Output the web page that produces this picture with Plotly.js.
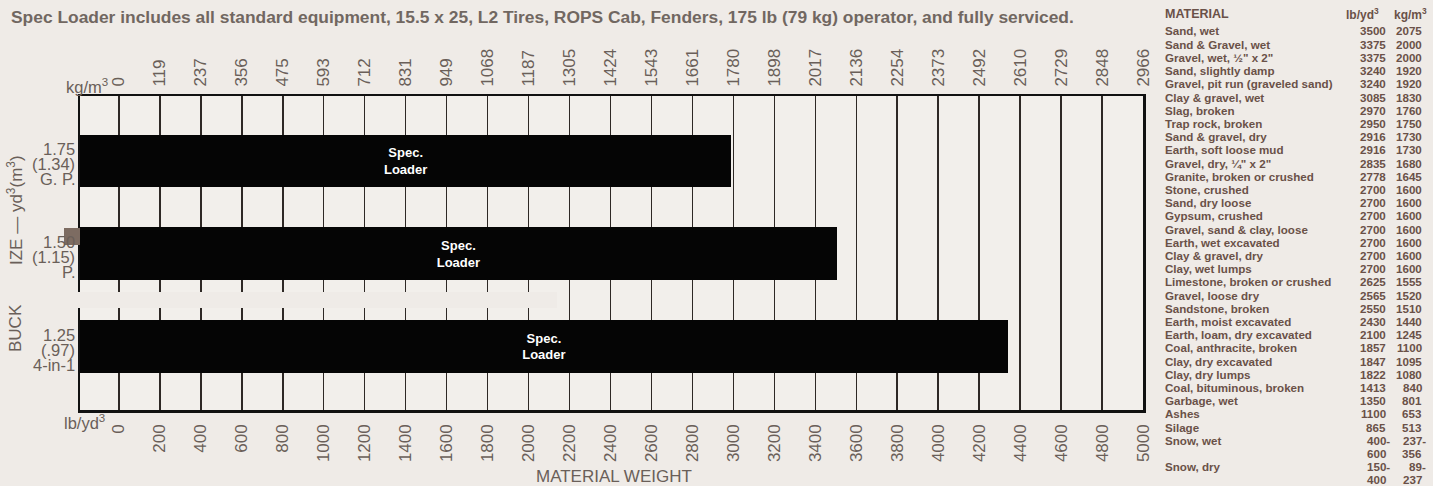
<!DOCTYPE html>
<html>
<head>
<meta charset="utf-8">
<script src="https://cdn.plot.ly/plotly-3.0.1.min.js"></script>
<style>
html,body{margin:0;padding:0;background:#efebe7;}
#chart{width:1433px;height:486px;}
</style>
</head>
<body>
<div id="chart"></div>
<script>
// ---------- data ----------
const bucketSize   = ['1.75', '1.50', '1.25'];
const bucketMetric = ['(1.34)', '(1.15)', '(.97)'];
const bucketType   = ['G. P.', 'P.', '4-in-1'];
const loaderWeight = [2990, 3505, 4340];          // lb/yd3 reached by each bar
const barLabels    = ['Spec.<br>Loader', 'Spec.<br>Loader', 'Spec.<br>Loader'];

const lbTicks = [0,200,400,600,800,1000,1200,1400,1600,1800,2000,2200,2400,2600,2800,3000,3200,3400,3600,3800,4000,4200,4400,4600,4800,5000];
const lbTickText = ['0','200','400','600','800','1000','1200','1400','1600','1800','2000','2200','2400','2600','2800','3000','3200','3400','3600','3800','4000','4200','4400','4600','4800','5000'];
const kgTickText = ['0','119','237','356','475','593','712','831','949','1068','1187','1305','1424','1543','1661','1780','1898','2017','2136','2254','2373','2492','2610','2729','2848','2966'];

const materials = ['Sand, wet','Sand & Gravel, wet','Gravel, wet, ½" x 2"','Sand, slightly damp','Gravel, pit run (graveled sand)','Clay & gravel, wet','Slag, broken','Trap rock, broken','Sand & gravel, dry','Earth, soft loose mud','Gravel, dry, ¼" x 2"','Granite, broken or crushed','Stone, crushed','Sand, dry loose','Gypsum, crushed','Gravel, sand & clay, loose','Earth, wet excavated','Clay & gravel, dry','Clay, wet lumps','Limestone, broken or crushed','Gravel, loose dry','Sandstone, broken','Earth, moist excavated','Earth, loam, dry excavated','Coal, anthracite, broken','Clay, dry excavated','Clay, dry lumps','Coal, bituminous, broken','Garbage, wet','Ashes','Silage','Snow, wet','Snow, dry'];
const lbPerYd3 = ['3500','3375','3375','3240','3240','3085','2970','2950','2916','2916','2835','2778','2700','2700','2700','2700','2700','2700','2700','2625','2565','2550','2430','2100','1857','1847','1822','1413','1350','1100','865','400-600','150-400'];
const kgPerM3  = ['2075','2000','2000','1920','1920','1830','1760','1750','1730','1730','1680','1645','1600','1600','1600','1600','1600','1600','1600','1555','1520','1510','1440','1245','1100','1095','1080','840','801','653','513','237-356','89-237'];

const titleText = 'Spec Loader includes all standard equipment, 15.5 x 25, L2 Tires, ROPS Cab, Fenders, 175 lb (79 kg) operator, and fully serviced.';

// ---------- layout helpers ----------
const PL = 80, PR = 1143, PT = 96, PB = 410;
const X_MIN = -190, X_MAX = 5000;
const px = p => (p - PL) / (PR - PL);
const py = p => (PB - p) / (PB - PT);
const FONT = 'Liberation Sans, Arial, Helvetica, sans-serif';
const TXT = '#6a5f59';
const TAB = '#6a5148';
const BG = '#efebe7';

const annotations = [];
function ann(o){ annotations.push(Object.assign({showarrow:false, xref:'paper', yref:'paper'}, o)); }

// Title
ann({text: titleText, x: px(9), y: py(17), xanchor:'left', yanchor:'middle',
     font:{family:FONT, size:17.4, color:'#716761', weight:'bold'}});

// axis unit labels
ann({text:'kg/m<sup>3</sup>', x: px(110), y: py(86), xanchor:'right', yanchor:'middle', font:{family:FONT,size:16.5,color:TXT}});
ann({text:'lb/yd<sup>3</sup>', x: px(107), y: py(422), xanchor:'right', yanchor:'middle', font:{family:FONT,size:16.5,color:TXT}});
ann({text:'MATERIAL WEIGHT', x: px(614), y: py(476), xanchor:'center', yanchor:'middle', font:{family:FONT,size:17,color:TXT}});

// y-axis title (visible pieces)
ann({text:'IZE — yd<sup>3</sup>(m<sup>3</sup>)', textangle:-90, x: px(15), y: py(210), xanchor:'center', yanchor:'middle', font:{family:FONT,size:17,color:TXT}});
ann({text:'BUCK', textangle:-90, x: px(15), y: py(328), xanchor:'center', yanchor:'middle', font:{family:FONT,size:17,color:TXT}});

// bucket labels
const bucketLines = [bucketSize, bucketMetric, bucketType];
const lineShift = [11.5, -3.5, -18.5];
for (let i = 0; i < bucketSize.length; i++) {
  bucketLines.forEach((arr, k) => {
    annotations.push({showarrow:false, xref:'paper', yref:'y', x: px(77), y: i, yshift: lineShift[k],
      xanchor:'right', yanchor:'middle', text: arr[i], font:{family:FONT,size:16.5,color:TXT}});
  });
}

// material table
const TX = 1163, LBX = 1388, KGX = 1424, ROW0 = 31, ROWH = 13.2;
const TF = {family:FONT, size:11.6, color:TAB, weight:'bold'};
ann({text:'<b>MATERIAL</b>', x: px(TX), y: py(14), xanchor:'left', yanchor:'middle', font:{family:FONT,size:12.5,color:TAB}});
ann({text:'<b>lb/yd<sup>3</sup></b>', x: px(1381), y: py(14), xanchor:'right', yanchor:'middle', font:{family:FONT,size:12,color:TAB}});
ann({text:'<b>kg/m<sup>3</sup></b>', x: px(1429), y: py(14), xanchor:'right', yanchor:'middle', font:{family:FONT,size:12,color:TAB}});
let row = 0;
for (let i = 0; i < materials.length; i++) {
  const yy = ROW0 + row * ROWH;
  ann({text: materials[i], x: px(TX), y: py(yy), xanchor:'left', yanchor:'middle', font:TF});
  const two = lbPerYd3[i].indexOf('-') >= 0;
  const lbParts = two ? [lbPerYd3[i].split('-')[0] + '-', lbPerYd3[i].split('-')[1]] : [lbPerYd3[i]];
  const kgParts = two ? [kgPerM3[i].split('-')[0] + '-', kgPerM3[i].split('-')[1]] : [kgPerM3[i]];
  lbParts.forEach((t, k) => ann({text:t, x: px(LBX + (two && k===0 ? 4 : 0)), y: py(yy + k*ROWH), xanchor:'right', yanchor:'middle', font:TF}));
  kgParts.forEach((t, k) => ann({text:t, x: px(KGX + (two && k===0 ? 4 : 0)), y: py(yy + k*ROWH), xanchor:'right', yanchor:'middle', font:TF}));
  row += two ? 2 : 1;
}

// ---------- traces ----------
const yPos = bucketSize.map((_, i) => i);
const bars = {
  type:'bar', orientation:'h', y: yPos, x: loaderWeight.map(v => v - X_MIN), base: X_MIN,
  width: 0.57, marker:{color:'#050505', line:{width:0}},
  text: barLabels, textposition:'inside', insidetextanchor:'middle', textangle:0,
  textfont:{family:'Liberation Sans, Arial, sans-serif', size:13, color:'#ffffff', weight:'bold'},
  hoverinfo:'skip', showlegend:false, xaxis:'x', yaxis:'y'
};
const topAxisCarrier = {
  type:'scatter', mode:'markers', x: loaderWeight, y: yPos, marker:{opacity:0, size:1},
  hoverinfo:'skip', showlegend:false, xaxis:'x2', yaxis:'y'
};

const layout = {
  width:1433, height:486,
  margin:{l:PL, r:1433-PR, t:PT, b:486-PB, pad:0},
  paper_bgcolor: BG, plot_bgcolor:'#f2efeb',
  showlegend:false, bargap:0,
  font:{family:FONT, color:TXT},
  xaxis:{
    range:[X_MIN, X_MAX], tickmode:'array', tickvals: lbTicks, ticktext: lbTickText, tickangle:-90,
    tickfont:{family:FONT, size:17, color:TXT}, ticks:'outside', ticklen:5, tickcolor:'rgba(0,0,0,0)',
    showgrid:true, gridcolor:'#2e2825', gridwidth:1.5, zeroline:false,
    showline:true, linecolor:'#111', linewidth:2.5, mirror:true, fixedrange:true
  },
  xaxis2:{
    overlaying:'x', side:'top', anchor:'y', range:[X_MIN, X_MAX], tickmode:'array', tickvals: lbTicks, ticktext: kgTickText,
    tickangle:-90, tickfont:{family:FONT, size:17, color:TXT}, ticks:'outside', ticklen:5, tickcolor:'rgba(0,0,0,0)',
    showgrid:false, zeroline:false, showline:false, fixedrange:true
  },
  yaxis:{
    range:[2.685, -0.70], showticklabels:false, ticks:'', showgrid:false, zeroline:false,
    showline:true, linecolor:'#111', linewidth:2.5, mirror:true, fixedrange:true
  },
  shapes:[
    {type:'rect', xref:'paper', yref:'paper', x0: px(63), x1: px(557), y0: py(308), y1: py(292), fillcolor: BG, line:{width:0}, layer:'above'},
    {type:'rect', xref:'paper', yref:'paper', x0: px(64), x1: px(80), y0: py(245), y1: py(228), fillcolor:'#7d6c62', line:{width:0}, layer:'above'}
  ],
  annotations: annotations
};

Plotly.newPlot('chart', [bars, topAxisCarrier], layout, {displayModeBar:false, staticPlot:true});
</script>
</body>
</html>
